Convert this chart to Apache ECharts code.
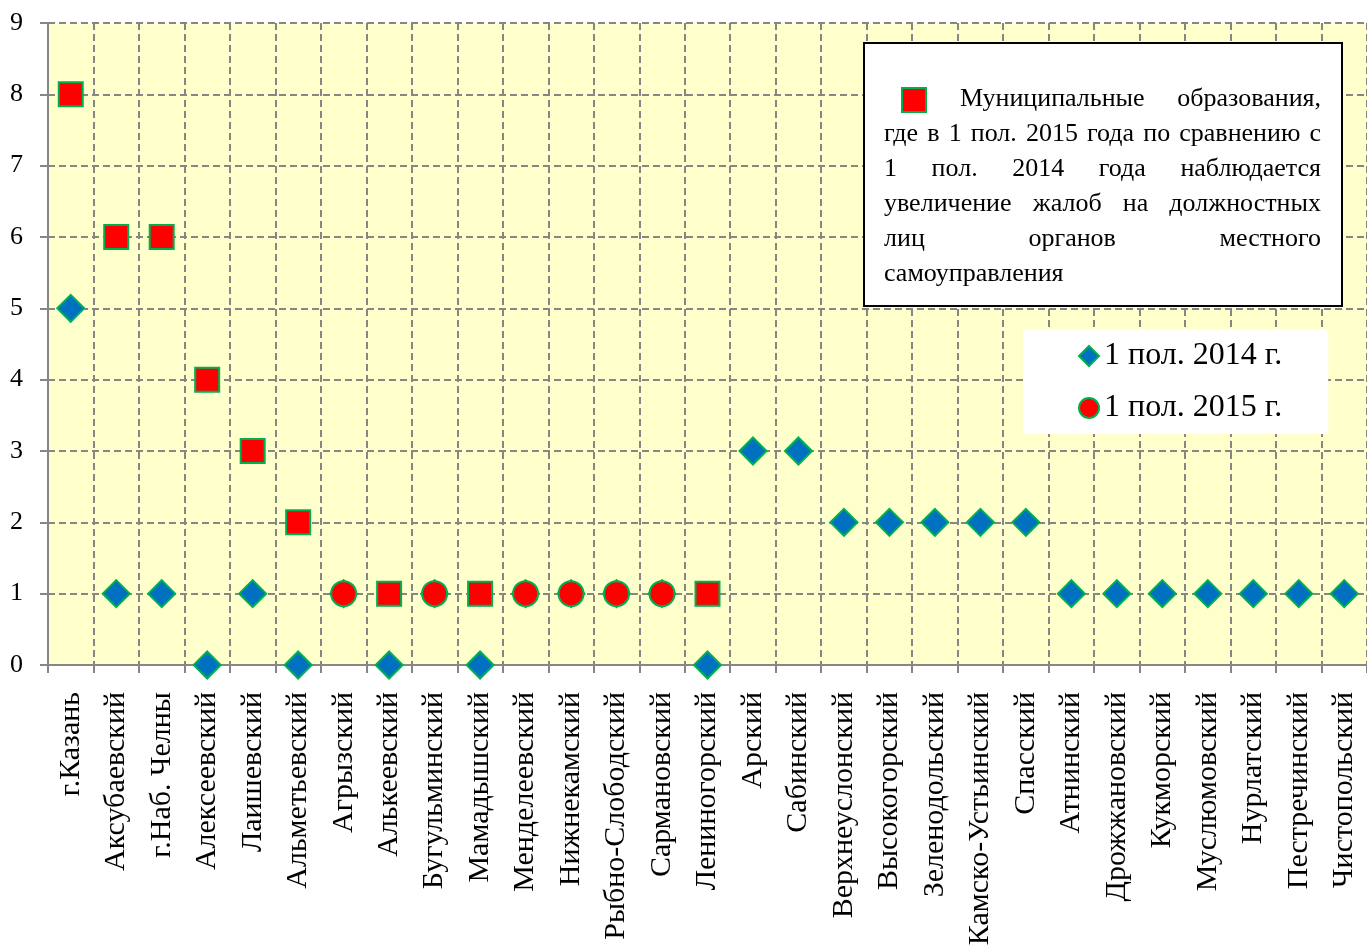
<!DOCTYPE html>
<html>
<head>
<meta charset="utf-8">
<script src="https://cdn.jsdelivr.net/npm/echarts@6/dist/echarts.min.js"></script>
<style>
html,body{margin:0;padding:0;background:#fff;}
#c{width:1367px;height:949px;}
</style>
</head>
<body>
<div id="c"></div>
<script>
const categories = ['г.Казань','Аксубаевский','г.Наб. Челны','Алексеевский','Лаишевский','Альметьевский','Агрызский','Алькеевский','Бугульминский','Мамадышский','Менделеевский','Нижнекамский','Рыбно-Слободский','Сармановский','Лениногорский','Арский','Сабинский','Верхнеуслонский','Высокогорский','Зеленодольский','Камско-Устьинский','Спасский','Атнинский','Дрожжановский','Кукморский','Муслюмовский','Нурлатский','Пестречинский','Чистопольский'];
const v2014 = [5,1,1,0,1,0,1,0,1,0,1,1,1,1,0,3,3,2,2,2,2,2,1,1,1,1,1,1,1];
const v2015 = [8,6,6,4,3,2,1,1,1,1,1,1,1,1,1,null,null,null,null,null,null,null,null,null,null,null,null,null,null];
const yTicks = [0,1,2,3,4,5,6,7,8,9];
const name2014 = '1 пол. 2014 г.';
const name2015 = '1 пол. 2015 г.';
const noteLines = [
  'Муниципальные образования,',
  'где в 1 пол. 2015 года по сравнению с',
  '1 пол. 2014 года наблюдается',
  'увеличение жалоб на должностных',
  'лиц органов местного',
  'самоуправления'
];

const FONT = '"Liberation Serif","Times New Roman",serif';
const green = '#00B050';
const gridColor = '#868686';

const same2015 = v2015.map((v,i)=> (v!==null && v<=v2014[i]) ? v : null);
const up2015 = v2015.map((v,i)=> (v!==null && v>v2014[i]) ? v : null);

// justified note text
const noteFontSize = 26;
const ctx = document.createElement('canvas').getContext('2d');
ctx.font = noteFontSize + 'px ' + FONT;
const noteRight = 1321;
const lineYs = [99,134,169,204,239,274];
const noteEls = [];
noteLines.forEach((line, li) => {
  const startX = li === 0 ? 960 : 884;
  const words = line.split(' ');
  const justify = li < noteLines.length - 1;
  if (!justify) {
    noteEls.push({type:'text', style:{text:line, x:startX, y:lineYs[li], font: noteFontSize+'px '+FONT, fill:'#000', textVerticalAlign:'middle'}, z:100});
    return;
  }
  const widths = words.map(w => ctx.measureText(w).width);
  const total = widths.reduce((a,b)=>a+b,0);
  const gap = (noteRight - startX - total) / (words.length - 1);
  let x = startX;
  words.forEach((w, wi) => {
    noteEls.push({type:'text', style:{text:w, x:x, y:lineYs[li], font: noteFontSize+'px '+FONT, fill:'#000', textVerticalAlign:'middle'}, z:100});
    x += widths[wi] + gap;
  });
});

const chart = echarts.init(document.getElementById('c'), null, {renderer:'canvas'});
chart.setOption({
  animation: false,
  backgroundColor: '#fff',
  grid: {left:48, top:23, right:-6, bottom:284, show:true, backgroundColor:'#FFFFCC', borderWidth:0},
  xAxis: {
    type:'category', data: categories, boundaryGap:true,
    axisLine:{show:true, lineStyle:{color:gridColor, width:2}},
    axisTick:{show:true, length:8, lineStyle:{color:gridColor, width:2}},
    splitLine:{show:true, lineStyle:{color:gridColor, width:2, type:[7,4]}},
    axisLabel:{rotate:90, interval:0, margin:27, fontFamily:FONT, fontSize:30, color:'#000'}
  },
  yAxis: {
    type:'value', min:yTicks[0], max:yTicks[yTicks.length-1], interval:1,
    axisLine:{show:true, lineStyle:{color:gridColor, width:2}},
    axisTick:{show:true, length:8, lineStyle:{color:gridColor, width:2}},
    splitLine:{show:true, lineStyle:{color:gridColor, width:2, type:[7,4]}},
    axisLabel:{margin:25, fontFamily:FONT, fontSize:26, color:'#000'}
  },
  legend: {
    data:[{name:name2014, icon:'diamond'},{name:name2015, icon:'circle'}],
    orient:'vertical', left:1023, top:330,
    backgroundColor:'#fff', padding:[10,46,10,55],
    itemWidth:20, itemHeight:20, itemGap:20,
    textStyle:{fontFamily:FONT, fontSize:32, color:'#000', lineHeight:32}
  },
  series: [
    {name:name2014, type:'scatter', symbol:'diamond', symbolSize:27, data:v2014,
     itemStyle:{color:'#0070C0', borderColor:green, borderWidth:2, opacity:1}, z:2},
    {name:name2015, type:'scatter', symbol:'circle', symbolSize:25, data:same2015,
     itemStyle:{color:'#FF0000', borderColor:green, borderWidth:2, opacity:1}, z:3},
    {name:'рост', type:'scatter', symbol:'rect', symbolSize:24, data:up2015,
     itemStyle:{color:'#FF0000', borderColor:green, borderWidth:2, opacity:1}, z:3}
  ],
  graphic: [
    {type:'rect', shape:{x:864, y:43, width:478, height:263}, style:{fill:'#fff', stroke:'#000', lineWidth:2}, z:99},
    {type:'rect', shape:{x:902, y:88, width:24, height:24}, style:{fill:'#FF0000', stroke:green, lineWidth:2}, z:100}
  ].concat(noteEls)
});
</script>
</body>
</html>
